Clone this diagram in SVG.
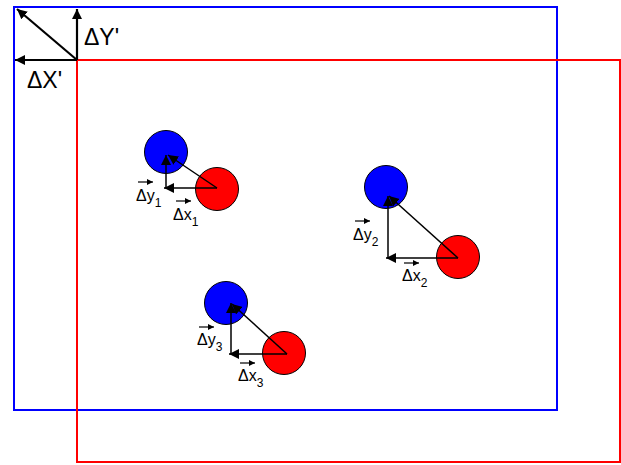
<svg xmlns="http://www.w3.org/2000/svg" width="621" height="465" viewBox="0 0 621 465">
<defs>
<marker id="ah" viewBox="0 0 10 10" refX="10" refY="5" markerWidth="10" markerHeight="10" markerUnits="userSpaceOnUse" orient="auto">
<path d="M0,0 L10,5 L0,10 z" fill="#000"/>
</marker>
<marker id="ahs" viewBox="0 0 10 10" refX="10" refY="5" markerWidth="6" markerHeight="6" markerUnits="userSpaceOnUse" orient="auto">
<path d="M0,0 L10,5 L0,10 z" fill="#000"/>
</marker>
</defs>
<style>
.frame{fill:none;stroke-width:2}
.blue{fill:#0000ff;stroke:#000;stroke-width:1}
.red{fill:#ff0000;stroke:#000;stroke-width:1}
.arr{stroke:#000;stroke-width:1.5;fill:none;marker-end:url(#ah)}
.big{stroke:#000;stroke-width:2.2;fill:none;marker-end:url(#ah)}
.vec{stroke:#000;stroke-width:1.2;fill:none;marker-end:url(#ahs)}
text{font-family:"Liberation Sans",Arial,sans-serif;fill:#000}
.lbl{font-size:16px}
.sub{font-size:12px}
.hb{font-size:23px}
</style>
<rect width="621" height="465" fill="#fff"/>
<g id="frame-blue"><rect class="frame" x="14" y="7" width="543" height="403" stroke="#0000ff"/></g>
<g id="frame-red"><rect class="frame" x="77" y="60" width="543" height="402" stroke="#ff0000"/></g>
<g id="circles">
<circle class="blue" cx="166" cy="152" r="21.5"/>
<circle class="red" cx="217" cy="189" r="21.5"/>
<circle class="blue" cx="386" cy="187" r="21.5"/>
<circle class="red" cx="458" cy="257" r="21.5"/>
<circle class="blue" cx="226" cy="303" r="21.5"/>
<circle class="red" cx="284" cy="353" r="21.5"/>
</g>
<g id="connectors">
<line class="big" x1="77" y1="60" x2="77" y2="9"/>
<line class="big" x1="77" y1="60" x2="15" y2="60"/>
<line class="big" x1="77" y1="60" x2="17" y2="9"/>
<line class="arr" x1="217" y1="188" x2="164" y2="188"/>
<line class="arr" x1="166" y1="188" x2="166" y2="155"/>
<line class="arr" x1="217" y1="188" x2="168" y2="155"/>
<line class="arr" x1="458" y1="258" x2="386" y2="258"/>
<line class="arr" x1="388" y1="258" x2="388" y2="196"/>
<line class="arr" x1="458" y1="258" x2="389" y2="196"/>
<line class="arr" x1="287" y1="354" x2="229" y2="354"/>
<line class="arr" x1="231" y1="354" x2="231" y2="303"/>
<line class="arr" x1="287" y1="354" x2="232" y2="304"/>
</g>
<g id="labels">
<text class="hb" x="84" y="45">ΔY'</text>
<text class="hb" x="27" y="88">ΔX'</text>
<line class="vec" x1="138" y1="182" x2="153" y2="182"/>
<text class="lbl" x="136" y="201">Δy<tspan class="sub" dy="6">1</tspan></text>
<line class="vec" x1="176" y1="201" x2="191" y2="201"/>
<text class="lbl" x="173" y="220">Δx<tspan class="sub" dy="6">1</tspan></text>
<line class="vec" x1="355" y1="221" x2="370" y2="221"/>
<text class="lbl" x="353" y="240">Δy<tspan class="sub" dy="6">2</tspan></text>
<line class="vec" x1="404" y1="263" x2="419" y2="263"/>
<text class="lbl" x="402" y="281">Δx<tspan class="sub" dy="6">2</tspan></text>
<line class="vec" x1="199" y1="327" x2="214" y2="327"/>
<text class="lbl" x="197" y="345">Δy<tspan class="sub" dy="6">3</tspan></text>
<line class="vec" x1="240" y1="363" x2="255" y2="363"/>
<text class="lbl" x="238" y="381">Δx<tspan class="sub" dy="6">3</tspan></text>
</g>
</svg>
